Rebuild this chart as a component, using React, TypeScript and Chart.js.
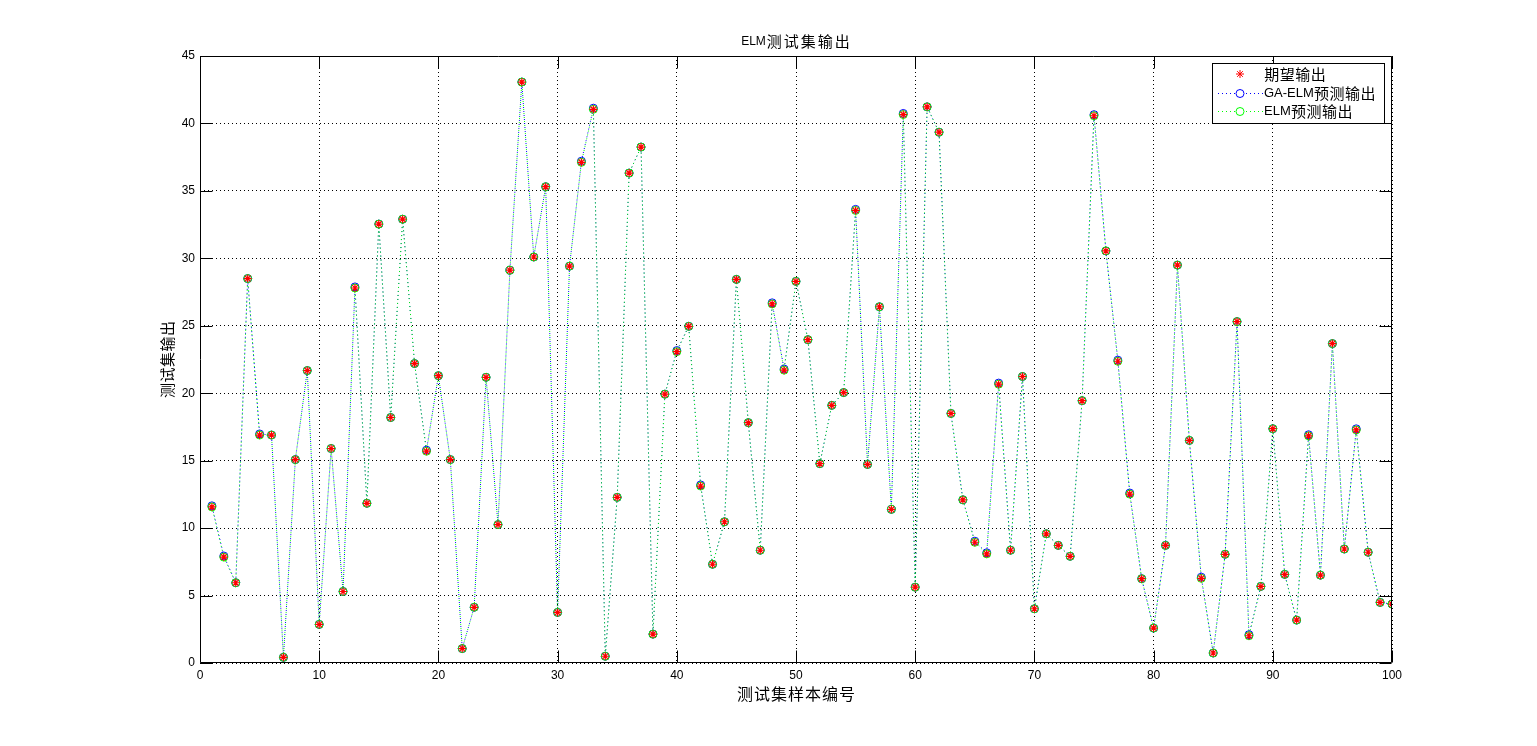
import React, { useEffect, useRef } from "react";
import { Chart, registerables } from "chart.js";

Chart.register(...registerables);

// ---------- data ----------
const sampleNumbers: number[] = Array.from({ length: 100 }, (_, i) => i + 1);

const expectedOutput: number[] = [
  11.57, 7.85, 5.95, 28.5, 16.9, 16.9, 0.42, 15.08, 21.68, 2.86,
  15.9, 5.3, 27.8, 11.84, 32.54, 18.2, 32.9, 22.2, 15.7, 21.3,
  15.08, 1.07, 4.13, 21.18, 10.26, 29.12, 43.07, 30.1, 35.31, 3.75,
  29.42, 37.12, 41.05, 0.5, 12.28, 36.32, 38.25, 2.14, 19.93, 23.08,
  24.96, 13.12, 7.32, 10.47, 28.44, 17.82, 8.36, 26.62, 21.71, 28.29,
  23.97, 14.78, 19.1, 20.05, 33.55, 14.72, 26.41, 11.39, 40.66, 5.62,
  41.23, 39.35, 18.5, 12.1, 8.95, 8.09, 20.67, 8.36, 21.24, 4.02,
  9.58, 8.72, 7.91, 19.45, 40.57, 30.55, 22.37, 12.52, 6.25, 2.59,
  8.72, 29.5, 16.5, 6.28, 0.74, 8.06, 25.31, 2.02, 5.68, 17.37,
  6.57, 3.18, 16.84, 6.51, 23.68, 8.45, 17.28, 8.21, 4.49, 4.37,
];

const gaElmOutput: number[] = [
  11.65, 7.93, 5.95, 28.5, 16.98, 16.9, 0.42, 15.08, 21.68, 2.86,
  15.9, 5.3, 27.88, 11.84, 32.54, 18.2, 32.9, 22.2, 15.78, 21.3,
  15.08, 1.07, 4.13, 21.18, 10.26, 29.12, 43.07, 30.1, 35.31, 3.75,
  29.42, 37.2, 41.13, 0.5, 12.28, 36.32, 38.25, 2.14, 19.93, 23.16,
  24.96, 13.2, 7.32, 10.47, 28.44, 17.82, 8.36, 26.7, 21.79, 28.29,
  23.97, 14.78, 19.1, 20.05, 33.63, 14.72, 26.41, 11.39, 40.74, 5.62,
  41.23, 39.35, 18.5, 12.1, 9.03, 8.17, 20.75, 8.36, 21.24, 4.02,
  9.58, 8.72, 7.91, 19.45, 40.65, 30.55, 22.45, 12.6, 6.25, 2.59,
  8.72, 29.5, 16.5, 6.36, 0.74, 8.06, 25.31, 2.1, 5.68, 17.37,
  6.57, 3.18, 16.92, 6.51, 23.68, 8.45, 17.36, 8.21, 4.49, 4.37,
];

const elmOutput: number[] = [
  11.57, 7.85, 5.95, 28.5, 16.9, 16.9, 0.42, 15.08, 21.68, 2.86,
  15.9, 5.3, 27.8, 11.84, 32.54, 18.2, 32.9, 22.2, 15.7, 21.3,
  15.08, 1.07, 4.13, 21.18, 10.26, 29.12, 43.07, 30.1, 35.31, 3.75,
  29.42, 37.12, 41.05, 0.5, 12.28, 36.32, 38.25, 2.14, 19.93, 23.08,
  24.96, 13.12, 7.32, 10.47, 28.44, 17.82, 8.36, 26.62, 21.71, 28.29,
  23.97, 14.78, 19.1, 20.05, 33.55, 14.72, 26.41, 11.39, 40.66, 5.62,
  41.23, 39.35, 18.5, 12.1, 8.95, 8.09, 20.67, 8.36, 21.24, 4.02,
  9.58, 8.72, 7.91, 19.45, 40.57, 30.55, 22.37, 12.52, 6.25, 2.59,
  8.72, 29.5, 16.5, 6.28, 0.74, 8.06, 25.31, 2.02, 5.68, 17.37,
  6.57, 3.18, 16.84, 6.51, 23.68, 8.45, 17.28, 8.21, 4.49, 4.37,
];

const xTicks: number[] = [0, 10, 20, 30, 40, 50, 60, 70, 80, 90, 100];
const yTicks: number[] = [0, 5, 10, 15, 20, 25, 30, 35, 40, 45];

const seriesLabels: string[] = ["期望输出", "GA-ELM预测输出", "ELM预测输出"];
const chartTitle = "ELM测试集输出";
const xAxisTitle = "测试集样本编号";
const yAxisTitle = "测试集输出";

// ---------- styling ----------
const LATIN = "'Liberation Sans', Arial, sans-serif";
const CJK = "'Noto Sans CJK SC', 'Noto Sans', sans-serif";
const RED = "rgb(255,0,0)";
const BLUE = "rgb(0,0,255)";
const GREEN = "rgb(0,255,0)";

const isCjk = (ch: string) => /[\u2e80-\u9fff\uf900-\ufaff\uff00-\uffef]/.test(ch);

// Draw text mixing a Latin font and a CJK font (MATLAB-like wide CJK glyph spacing)
function drawMixed(
  ctx: CanvasRenderingContext2D,
  text: string,
  x: number,
  y: number,
  align: "left" | "center",
  latinPx: number,
  cjkPx: number,
  cjkAdvance: number
) {
  const runs: { t: string; cjk: boolean }[] = [];
  for (const ch of text) {
    const c = isCjk(ch);
    if (runs.length && runs[runs.length - 1].cjk === c && !c) runs[runs.length - 1].t += ch;
    else runs.push({ t: ch, cjk: c });
  }
  const widths = runs.map((r) => {
    if (r.cjk) return cjkAdvance;
    ctx.font = `${latinPx}px ${LATIN}`;
    return ctx.measureText(r.t).width;
  });
  const total = widths.reduce((a, b) => a + b, 0);
  let cx = align === "center" ? x - total / 2 : x;
  ctx.textBaseline = "middle";
  runs.forEach((r, i) => {
    if (r.cjk) {
      ctx.font = `${cjkPx}px ${CJK}`;
      ctx.textAlign = "center";
      ctx.fillText(r.t, cx + cjkAdvance / 2, y);
    } else {
      ctx.font = `${latinPx}px ${LATIN}`;
      ctx.textAlign = "left";
      ctx.fillText(r.t, cx, y + 0.5);
    }
    cx += widths[i];
  });
}

const matlabFrame = {
  id: "matlabFrame",
  afterDraw(chart: any) {
    const ctx: CanvasRenderingContext2D = chart.ctx;
    const { left, right, top, bottom } = chart.chartArea;
    const xs = chart.scales.x;
    const ys = chart.scales.y;
    const TL = 12;
    ctx.save();
    ctx.strokeStyle = "#000";
    ctx.lineWidth = 1;
    ctx.setLineDash([]);
    // box
    const L = Math.round(left) + 0.5;
    const R = Math.round(right) - 0.5;
    const T = Math.round(top) + 0.5;
    const B = Math.round(bottom) - 0.5;
    ctx.beginPath();
    ctx.rect(L, T, R - L, B - T);
    ctx.stroke();
    // inward ticks
    ctx.beginPath();
    xTicks.forEach((v) => {
      const px = Math.round(xs.getPixelForValue(v)) + 0.5;
      ctx.moveTo(px, B);
      ctx.lineTo(px, B - TL);
      ctx.moveTo(px, T);
      ctx.lineTo(px, T + TL);
    });
    yTicks.forEach((v) => {
      const py = Math.round(ys.getPixelForValue(v)) + 0.5;
      ctx.moveTo(L, py);
      ctx.lineTo(L + TL, py);
      ctx.moveTo(R, py);
      ctx.lineTo(R - TL, py);
    });
    ctx.stroke();

    // titles
    ctx.fillStyle = "#000";
    drawMixed(ctx, chartTitle, (left + right) / 2, 41, "center", 12, 15, 17);
    drawMixed(ctx, xAxisTitle, (left + right) / 2, 694, "center", 12, 16, 17);
    ctx.save();
    ctx.translate(167, (top + bottom) / 2);
    ctx.rotate(-Math.PI / 2);
    drawMixed(ctx, yAxisTitle, 0, 0, "center", 12, 15, 15.5);
    ctx.restore();

    // legend
    const bx = 1212.5, by = 63.5, bw = 172, bh = 60;
    ctx.fillStyle = "#fff";
    ctx.fillRect(bx, by, bw, bh);
    ctx.strokeStyle = "#000";
    ctx.strokeRect(bx, by, bw, bh);
    const rowsY = [74, 93, 111];
    const mx = 1240;
    // row 1: star marker
    ctx.strokeStyle = RED;
    ctx.beginPath();
    const r = 4;
    ctx.moveTo(mx - r, rowsY[0]); ctx.lineTo(mx + r, rowsY[0]);
    ctx.moveTo(mx, rowsY[0] - r); ctx.lineTo(mx, rowsY[0] + r);
    const d = r * Math.SQRT1_2;
    ctx.moveTo(mx - d, rowsY[0] - d); ctx.lineTo(mx + d, rowsY[0] + d);
    ctx.moveTo(mx - d, rowsY[0] + d); ctx.lineTo(mx + d, rowsY[0] - d);
    ctx.stroke();
    // rows 2,3: dotted line + circle
    [[BLUE, rowsY[1]], [GREEN, rowsY[2]]].forEach(([col, yy]) => {
      const y0 = (yy as number) + 0.5;
      ctx.strokeStyle = col as string;
      ctx.setLineDash([1, 3]);
      ctx.beginPath();
      ctx.moveTo(1218, y0);
      ctx.lineTo(1263, y0);
      ctx.stroke();
      ctx.setLineDash([]);
      ctx.fillStyle = "#fff";
      ctx.beginPath();
      ctx.arc(mx, y0, 4, 0, Math.PI * 2);
      ctx.fill();
      ctx.stroke();
    });
    ctx.fillStyle = "#000";
    seriesLabels.forEach((lab, i) => {
      drawMixed(ctx, lab, 1264, rowsY[i], "left", 13, 15, 15.5);
    });
    ctx.restore();
  },
};

export default function App() {
  const canvasRef = useRef<HTMLCanvasElement | null>(null);

  useEffect(() => {
    document.body.style.margin = "0";
    document.body.style.overflow = "hidden";
    const canvas = canvasRef.current;
    if (!canvas) return;

    const toPoints = (vals: number[]) => vals.map((v, i) => ({ x: sampleNumbers[i], y: v }));
    const tickFont = { family: LATIN, size: 12 };

    const chart = new Chart(canvas, {
      type: "line",
      data: {
        datasets: [
          {
            label: seriesLabels[0],
            data: toPoints(expectedOutput),
            showLine: false,
            pointStyle: "star",
            pointRadius: 4,
            pointBorderWidth: 1.2,
            pointBorderColor: RED,
            pointBackgroundColor: RED,
            borderColor: RED,
            order: 0,
          },
          {
            label: seriesLabels[1],
            data: toPoints(gaElmOutput),
            borderColor: BLUE,
            borderWidth: 1,
            borderDash: [1, 3],
            borderDashOffset: 2,
            tension: 0,
            pointStyle: "circle",
            pointRadius: 4,
            pointBorderWidth: 1,
            pointBorderColor: BLUE,
            pointBackgroundColor: "rgba(0,0,0,0)",
            fill: false,
            order: 2,
          },
          {
            label: seriesLabels[2],
            data: toPoints(elmOutput),
            borderColor: GREEN,
            borderWidth: 1,
            borderDash: [1, 3],
            tension: 0,
            pointStyle: "circle",
            pointRadius: 4,
            pointBorderWidth: 1,
            pointBorderColor: GREEN,
            pointBackgroundColor: "rgba(0,0,0,0)",
            fill: false,
            order: 1,
          },
        ],
      },
      options: {
        animation: false,
        responsive: false,
        maintainAspectRatio: false,
        events: [],
        layout: { padding: { left: 0, right: 145, top: 56, bottom: 0 } },
        plugins: {
          legend: { display: false },
          title: { display: false },
          tooltip: { enabled: false },
        },
        scales: {
          x: {
            type: "linear",
            min: 0,
            max: 100,
            afterBuildTicks: (s: any) => {
              s.ticks = xTicks.map((v) => ({ value: v }));
            },
            ticks: { font: tickFont, color: "#000", padding: 5, maxRotation: 0, autoSkip: false },
            grid: { color: "#000", lineWidth: 1, drawTicks: false },
            border: { display: false, dash: [1, 3] },
            afterFit: (s: any) => {
              s.height = 83;
            },
          },
          y: {
            type: "linear",
            min: 0,
            max: 45,
            afterBuildTicks: (s: any) => {
              s.ticks = yTicks.map((v) => ({ value: v }));
            },
            ticks: { font: tickFont, color: "#000", padding: 5, autoSkip: false },
            grid: { color: "#000", lineWidth: 1, drawTicks: false },
            border: { display: false, dash: [1, 3] },
            afterFit: (s: any) => {
              s.width = 200;
            },
          },
        },
      },
      plugins: [matlabFrame],
    } as any);

    return () => chart.destroy();
  }, []);

  return (
    <div style={{ width: 1537, height: 746, background: "#fff" }}>
      <canvas ref={canvasRef} width={1537} height={746} style={{ display: "block" }} />
    </div>
  );
}
